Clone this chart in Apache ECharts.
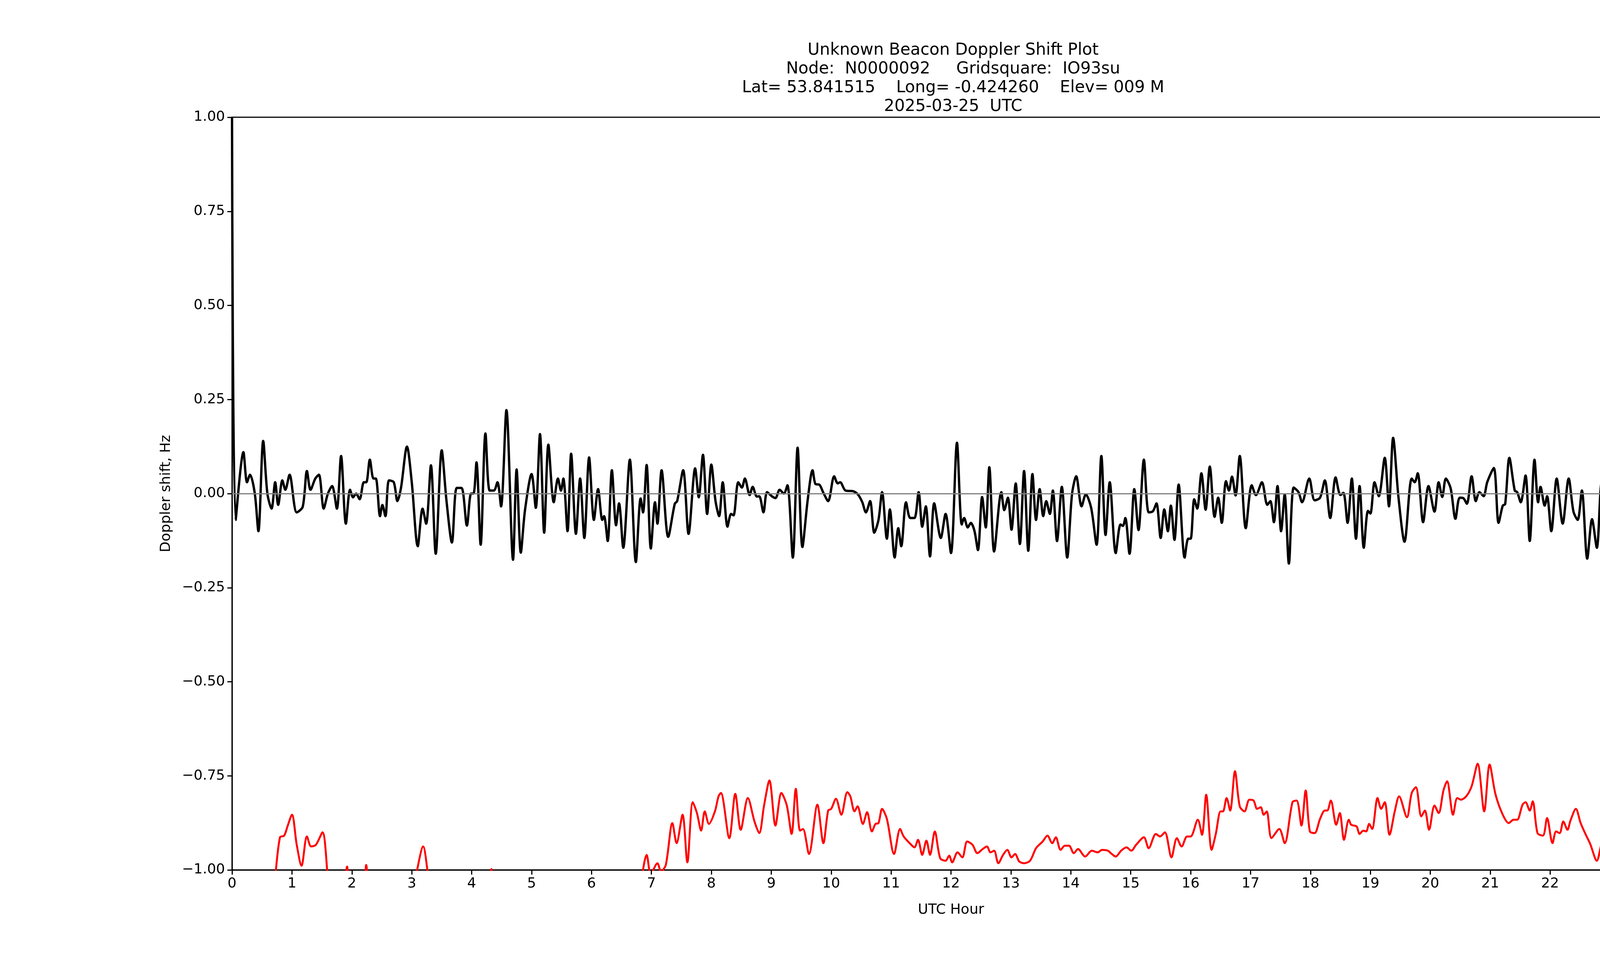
<!DOCTYPE html>
<html>
<head>
<meta charset="UTF-8">
<title>Doppler Shift Plot</title>
<script type="text/javascript" src="https://cdn.jsdelivr.net/npm/echarts@6/dist/echarts.min.js"></script>
</head>
<body style="margin:0">
<div id="div1" style="width:4750px;height:2500px"></div>
<script type="text/javascript">
// doppler trace
var dopHours = [0,0.06,0.19,0.25,0.3,0.38,0.44,0.52,0.59,0.66,0.72,0.77,0.84,0.89,0.96,1.08,1.18,1.25,1.31,1.39,1.45,1.53,1.6,1.67,1.75,1.82,1.9,1.97,2.02,2.07,2.13,2.2,2.24,2.3,2.36,2.4,2.47,2.51,2.56,2.62,2.7,2.76,2.82,2.92,3.0,3.1,3.18,3.24,3.32,3.4,3.5,3.58,3.67,3.75,3.83,3.92,3.99,4.03,
  4.08,4.15,4.23,4.3,4.37,4.43,4.49,4.58,4.69,4.75,4.82,4.89,5.0,5.07,5.14,5.21,5.28,5.37,5.44,5.49,5.53,5.6,5.66,5.74,5.81,5.88,5.96,6.04,6.11,6.18,6.21,6.27,6.34,6.41,6.46,6.53,6.64,6.74,6.82,6.86,6.92,6.99,7.06,7.1,7.17,7.28,7.39,7.43,7.53,7.62,7.73,7.79,7.86,7.93,8.0,8.07,
  8.13,8.19,8.27,8.33,8.37,8.45,8.51,8.56,8.64,8.69,8.76,8.8,8.87,8.93,9.01,9.07,9.14,9.21,9.27,9.36,9.44,9.52,9.61,9.69,9.74,9.8,9.87,9.95,10.05,10.11,10.15,10.24,10.37,10.45,10.52,10.58,10.65,10.72,10.79,10.85,10.93,10.98,11.06,11.12,11.17,11.25,11.32,11.39,11.46,11.52,11.58,11.65,11.72,11.83,11.91,12.0,12.1,
  12.18,12.22,12.28,12.33,12.39,12.45,12.52,12.58,12.64,12.72,12.84,12.89,12.95,13.01,13.08,13.15,13.22,13.29,13.36,13.42,13.48,13.54,13.59,13.65,13.7,13.77,13.85,13.94,14.02,14.09,14.18,14.25,14.34,14.43,14.51,14.58,14.65,14.75,14.83,14.87,14.91,14.98,15.06,15.13,15.22,15.3,15.37,15.43,15.5,15.56,15.62,15.67,15.73,15.8,15.9,15.96,16.0,16.06,16.11,16.18,
  16.25,16.32,16.4,16.46,16.52,16.59,16.64,16.69,16.75,16.82,16.92,17.02,17.09,17.19,17.28,17.33,17.39,17.45,17.51,17.57,17.64,17.72,17.8,17.86,17.98,18.07,18.16,18.24,18.33,18.42,18.5,18.55,18.62,18.69,18.76,18.82,18.89,18.96,19.0,19.07,19.14,19.24,19.31,19.38,19.47,19.57,19.69,19.74,19.79,19.88,19.97,20.07,20.14,20.2,
  20.26,20.34,20.42,20.49,20.55,20.61,20.69,20.76,20.82,20.89,20.95,21.06,21.14,21.21,21.25,21.32,21.41,21.45,21.51,21.59,21.66,21.74,21.8,21.84,21.91,21.95,22.02,22.11,22.21,22.31,22.39,22.46,22.53,22.62,22.7,22.78,22.86,22.94,23.03,23.09,23.17,23.27,23.36,23.41,23.46,23.52,23.59,23.66,23.72,23.77,23.83,23.91,23.97,24.0];
var dopHz = [1.0,-0.07,0.11,0.03,0.05,0.0,-0.1,0.14,0.0,-0.04,0.03,-0.03,0.035,0.01,0.05,-0.05,-0.035,0.06,0.01,0.04,0.05,-0.04,0.0,0.02,-0.04,0.1,-0.08,0.01,-0.01,0.0,-0.015,0.03,0.03,0.09,0.04,0.04,-0.06,-0.03,-0.06,0.035,0.03,-0.02,0.015,0.125,0.03,-0.14,-0.04,-0.08,0.075,-0.16,0.115,-0.02,-0.13,0.015,0.015,-0.085,0.0,0.0,
  0.083,-0.136,0.16,0.008,0.008,0.03,-0.034,0.222,-0.176,0.064,-0.157,-0.044,0.052,-0.038,0.158,-0.104,0.13,-0.023,0.04,0.008,0.04,-0.1,0.106,-0.107,0.04,-0.118,0.096,-0.07,0.012,-0.07,-0.06,-0.126,0.062,-0.084,-0.026,-0.144,0.09,-0.182,-0.013,-0.05,0.076,-0.146,-0.023,-0.08,0.062,-0.115,-0.027,-0.02,0.062,-0.107,0.067,-0.01,0.103,-0.054,0.077,-0.02,
  -0.06,0.03,-0.088,-0.054,-0.058,0.03,0.016,0.04,-0.004,0.018,-0.008,-0.007,-0.05,0.004,-0.007,-0.012,0.01,0.0,0.022,-0.17,0.122,-0.142,-0.015,0.062,0.025,0.024,0.002,-0.02,0.046,0.027,0.03,0.008,0.006,-0.003,-0.023,-0.05,-0.02,-0.104,-0.07,0.004,-0.12,-0.042,-0.17,-0.092,-0.14,-0.023,-0.065,-0.065,0.004,-0.088,-0.034,-0.167,-0.026,-0.118,-0.054,-0.158,0.135,
  -0.082,-0.065,-0.09,-0.078,-0.098,-0.15,-0.009,-0.09,0.07,-0.154,0.004,-0.044,-0.011,-0.096,0.027,-0.134,0.06,-0.152,0.052,-0.07,0.012,-0.06,-0.02,-0.054,0.008,-0.126,0.018,-0.17,-0.002,0.046,-0.034,-0.002,-0.038,-0.136,0.1,-0.11,0.03,-0.158,-0.082,-0.086,-0.065,-0.16,0.012,-0.097,0.09,-0.05,-0.047,-0.026,-0.118,-0.042,-0.1,-0.032,-0.123,0.024,-0.17,-0.12,-0.12,-0.015,-0.04,0.054,
  -0.043,0.072,-0.062,-0.011,-0.078,0.033,0.008,0.045,-0.005,0.1,-0.092,0.022,-0.004,0.03,-0.03,-0.02,-0.076,0.02,-0.1,-0.002,-0.186,0.016,0.004,-0.023,0.04,-0.018,-0.011,0.035,-0.065,0.043,-0.004,0.002,-0.078,0.04,-0.12,0.02,-0.144,-0.046,-0.053,0.03,-0.007,0.095,-0.034,0.148,-0.011,-0.128,0.04,0.03,0.054,-0.076,0.02,-0.048,0.03,-0.009,
  0.04,0.014,-0.067,-0.011,-0.012,-0.027,0.046,-0.02,0.004,-0.007,0.03,0.068,-0.078,-0.032,-0.028,0.095,0.008,0.004,-0.023,0.048,-0.126,0.09,-0.023,0.018,-0.032,-0.007,-0.1,0.04,-0.08,0.04,-0.048,-0.07,0.008,-0.173,-0.068,-0.144,0.028,-0.057,-0.018,-0.044,0.066,-0.078,0.058,-0.018,-0.012,-0.09,0.03,-0.076,0.025,-0.026,0.052,-0.11,-0.096,-0.094];

// power trace in dB, values below -90 fall outside the axis
var pwrHours = [0,0.68,0.72,0.8,0.87,0.93,1.0,1.08,1.16,1.25,1.32,1.4,1.51,1.6,1.66,1.86,1.92,1.98,2.18,2.24,2.3,3.0,3.09,3.19,3.26,3.33,4.28,4.33,4.38,6.8,
  6.86,6.92,6.99,7.1,7.16,7.24,7.35,7.42,7.52,7.6,7.69,7.76,7.83,7.89,7.96,8.06,8.12,
  8.16,8.3,8.4,8.49,8.61,8.72,8.8,8.88,8.97,9.07,9.17,9.26,9.34,9.41,9.48,9.53,9.63,9.77,9.87,9.95,10.0,10.08,10.17,10.27,10.32,10.39,10.44,10.53,10.6,10.68,10.74,10.79,10.85,10.93,11.05,11.15,11.21,11.31,11.39,11.45,11.52,11.59,11.65,11.73,11.82,11.91,11.97,12.02,12.11,
  12.19,12.27,12.36,12.44,12.53,12.6,12.66,12.72,12.79,12.87,12.94,13.01,13.07,13.14,13.22,13.32,13.42,13.53,13.61,13.69,13.75,13.83,13.9,13.97,14.05,14.12,14.24,14.35,14.45,14.52,14.62,14.67,14.75,14.84,14.93,15.01,15.09,15.22,15.3,15.42,15.49,15.57,15.68,15.77,15.85,15.94,16.0,16.12,
  16.19,16.26,16.35,16.42,16.5,16.54,16.6,16.66,16.74,16.82,16.9,16.98,17.05,17.11,17.17,17.22,17.27,17.35,17.48,17.57,17.7,17.77,17.85,17.92,17.99,18.07,18.16,18.24,18.28,18.34,18.43,18.49,18.56,18.64,18.68,18.77,18.82,18.88,18.93,18.98,19.03,19.12,19.18,19.24,19.32,19.41,19.48,19.61,19.69,19.76,19.85,19.91,19.98,20.07,20.14,20.22,
  20.28,20.38,20.45,20.51,20.6,20.69,20.79,20.9,20.99,21.09,21.21,21.31,21.39,21.45,21.54,21.59,21.66,21.71,21.79,21.88,21.95,22.04,22.1,22.16,22.22,22.29,22.34,22.43,22.51,22.59,22.67,22.78,22.87,22.96,23.05,23.09,23.14,23.25,23.34,23.42,23.48,23.55,23.61,23.69,23.75,23.81,23.9,24.0];
var pwrDb = [-96,-95,-91,-86.1,-85.9,-84.7,-83.4,-87,-89.5,-86,-87.2,-87,-85.5,-91,-95,-93,-89.6,-93,-93,-89.4,-93,-94,-90,-87.2,-90,-95,-92,-89.9,-92,-94,
  -90,-88.2,-90.5,-89.2,-90.2,-89.4,-84.4,-86.8,-83.4,-89.1,-81.9,-83.2,-85.3,-83,-84.5,-83,-81.2,
  -80.8,-86.2,-80.9,-85.2,-81.4,-84.2,-85.6,-82.3,-79.3,-84.7,-80.8,-82.3,-85.7,-80.3,-85.3,-85.1,-88.1,-82.2,-86.8,-82.9,-82.7,-81.5,-83.4,-80.7,-81.2,-83,-82.4,-84.5,-83.1,-85.4,-84.5,-84.4,-82.7,-83.9,-88.1,-85.1,-86,-86.8,-87.3,-86.4,-88.2,-86.5,-88.2,-85.4,-88.6,-88.9,-88.3,-89.1,-87.9,
  -88.5,-86.6,-87,-88,-87.5,-87.2,-87.9,-87.7,-89.2,-88.2,-87.6,-88.5,-88.1,-89,-89.2,-88.9,-87.4,-86.6,-85.9,-86.8,-86.1,-87.6,-87.1,-87.1,-88,-87.5,-88.4,-87.7,-87.9,-87.6,-87.7,-88,-88.4,-87.7,-87.3,-87.7,-87,-86.1,-87.4,-85.7,-86,-85.5,-88.5,-86.2,-87.2,-86,-86,-84,
  -85.8,-81,-87.6,-85.7,-83,-83,-81.4,-82.9,-78.2,-82.4,-83,-81.6,-81.7,-82.7,-82.5,-83.4,-83,-86.2,-85.1,-86.8,-81.9,-81.7,-84.7,-80.5,-85.4,-85.6,-83.9,-82.9,-82.9,-81.7,-84.6,-83.2,-86.4,-84,-84.6,-84.8,-85.7,-85.3,-85.4,-84.5,-85.1,-81.4,-82.7,-81.9,-85.8,-82.9,-81.2,-83.7,-80.8,-80.1,-83.6,-82.9,-85.2,-82.3,-83.2,-80.5,
  -79.4,-83.4,-81.4,-81.6,-81.2,-80,-77.3,-83,-77.4,-81,-83.4,-84.4,-84,-84,-82.2,-81.9,-82.9,-81.8,-85.6,-85.9,-83.8,-86.8,-85.4,-85.6,-84.2,-85.2,-84.1,-82.7,-84.4,-85.7,-86.9,-88.9,-86.8,-88.9,-83.6,-83.8,-83.2,-87.9,-84.4,-86.6,-85,-87,-82.2,-90.2,-87.6,-90.2,-89.6,-89.6];

var titleLines = ['Unknown Beacon Doppler Shift Plot',
  'Node:  N0000092     Gridsquare:  IO93su',
  'Lat= 53.841515    Long= -0.424260    Elev= 009 M',
  '2025-03-25  UTC'];

function pairs(xs, ys) {
  var res = [];
  for (var i = 0; i < xs.length; i++) res.push([xs[i], ys[i]]);
  return res;
}
function minus(s) { return String(s).replace('-', '\u2212'); }

var myChart = echarts.init(document.getElementById('div1'));
var font = 'DejaVu Sans';
option = {
  backgroundColor: '#fff',
  animation: false,
  textStyle: { fontFamily: font },
  title: {
    text: titleLines.join('\n'),
    left: 2435, top: 100, textAlign: 'center',
    textStyle: { fontFamily: font, fontSize: 42, fontWeight: 'normal', color: '#000', lineHeight: 48 }
  },
  grid: { left: 594, right: 475, top: 300, bottom: 274, show: true, borderColor: '#000', borderWidth: 3 },
  xAxis: {
    type: 'value', min: 0, max: 24, interval: 1,
    name: 'UTC Hour', nameLocation: 'middle', nameGap: 85,
    nameTextStyle: { fontSize: 36, color: '#000' },
    axisLine: { onZero: false, lineStyle: { color: '#000', width: 3 } },
    axisTick: { length: 12, lineStyle: { color: '#000', width: 3 } },
    axisLabel: { fontSize: 36, color: '#000', margin: 18 },
    splitLine: { show: false }
  },
  yAxis: [{
    type: 'value', min: -1, max: 1, interval: 0.25,
    name: 'Doppler shift, Hz', nameLocation: 'middle', nameGap: 150, nameRotate: 90,
    nameTextStyle: { fontSize: 36, color: '#000' },
    axisLine: { show: true, lineStyle: { color: '#000', width: 3 } },
    axisTick: { show: true, length: 12, lineStyle: { color: '#000', width: 3 } },
    axisLabel: { fontSize: 36, color: '#000', margin: 18, formatter: function (v) { return minus(v.toFixed(2)); } },
    splitLine: { show: false }
  }, {
    type: 'value', min: -90, max: 0, interval: 10,
    name: 'Power in relative dB', nameLocation: 'middle', nameGap: 125, nameRotate: 90,
    nameTextStyle: { fontSize: 36, color: '#ff0000' },
    axisLine: { show: true, lineStyle: { color: '#000', width: 3 } },
    axisTick: { show: true, length: 12, lineStyle: { color: '#000', width: 3 } },
    axisLabel: { fontSize: 36, color: '#ff0000', margin: 18, formatter: function (v) { return minus(v); } },
    splitLine: { show: false }
  }],
  series: [{
    name: 'power', type: 'line', yAxisIndex: 1, data: pairs(pwrHours, pwrDb),
    showSymbol: false, smooth: 0.3, clip: true,
    lineStyle: { color: '#ff0000', width: 5 }
  }, {
    name: 'doppler', type: 'line', yAxisIndex: 0, data: pairs(dopHours, dopHz),
    showSymbol: false, smooth: 0.3, clip: true,
    lineStyle: { color: '#000', width: 6 },
    markLine: {
      silent: true, symbol: 'none', label: { show: false },
      lineStyle: { color: '#808080', type: 'solid', width: 3 },
      data: [{ yAxis: 0 }]
    }
  }]
};
myChart.setOption(option);
</script>
</body>
</html>
